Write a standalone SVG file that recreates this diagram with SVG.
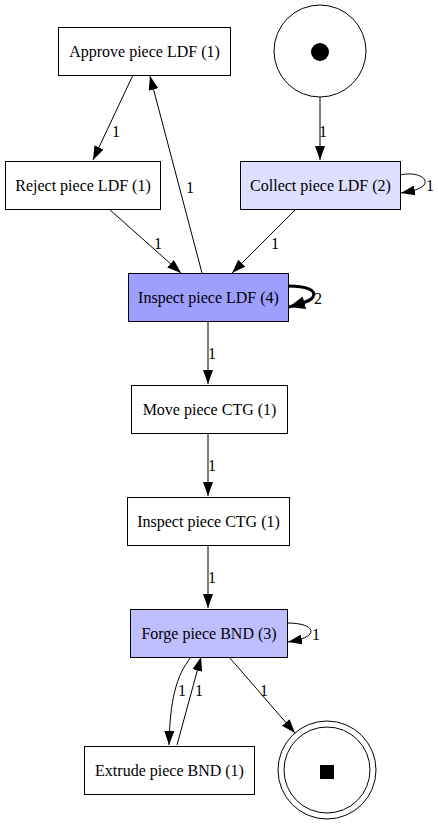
<svg xmlns="http://www.w3.org/2000/svg" width="438" height="824" viewBox="0 0 438 824">
<style>
.n{stroke:#000;stroke-width:1;}
.t{font-family:"Liberation Serif","Times New Roman",serif;font-size:16px;text-anchor:middle;fill:#000;}
.l{font-family:"Liberation Serif","Times New Roman",serif;font-size:16px;text-anchor:middle;fill:#000;}
.e{fill:none;stroke:#000;stroke-width:1;marker-end:url(#a);}
.e3{fill:none;stroke:#000;stroke-width:3;marker-end:url(#b);}
</style>
<defs>
<marker id="a" viewBox="0 0 14 10" refX="14" refY="5" markerWidth="14" markerHeight="10" markerUnits="userSpaceOnUse" orient="auto">
<path d="M0,0 L14,5 L0,10 z" fill="#000"/>
</marker>
<marker id="b" viewBox="0 0 16 13" refX="16" refY="6.5" markerWidth="16" markerHeight="13" markerUnits="userSpaceOnUse" orient="auto">
<path d="M0,0 L16,6.5 L0,13 z" fill="#000"/>
</marker>
</defs>
<rect width="438" height="824" fill="#fff"/>
<g id="connectors">
<path class="e" d="M133,75 L93,160"/>
<text class="l" x="116" y="137">1</text>
<path class="e" d="M202,273 L150,76"/>
<text class="l" x="190" y="193">1</text>
<path class="e" d="M320,97 L320,160"/>
<text class="l" x="323" y="137">1</text>
<path class="e" d="M400,175 C418,171 429,179 424,185 C421,189 412,191 401,193"/>
<text class="l" x="430" y="191">1</text>
<path class="e" d="M109,209 L181,273"/>
<text class="l" x="158" y="249">1</text>
<path class="e" d="M296,209 L232,273"/>
<text class="l" x="275" y="249">1</text>
<path class="e3" d="M288,286 C306,286 317,290 313,297 C311,301 300,304 289,307"/>
<text class="l" x="318" y="304">2</text>
<path class="e" d="M208,321 L208,384"/>
<text class="l" x="212" y="359">1</text>
<path class="e" d="M208,433 L208,496"/>
<text class="l" x="212" y="471">1</text>
<path class="e" d="M208,545 L208,608"/>
<text class="l" x="212" y="583">1</text>
<path class="e" d="M287,623 C305,623 314,628 310,634 C307,638 299,640 288,642"/>
<text class="l" x="316" y="640">1</text>
<path class="e" d="M191,657 C176,676 170,700 169,745"/>
<text class="l" x="182" y="696">1</text>
<path class="e" d="M177,745 L201,657"/>
<text class="l" x="199" y="696">1</text>
<path class="e" d="M229,657 L295,733"/>
<text class="l" x="264" y="696">1</text>
</g>
<g id="start">
<circle class="n" cx="320" cy="51" r="46" fill="#fff"/>
<circle cx="320" cy="52" r="9" fill="#000"/>
</g>
<g id="approve">
<rect class="n" x="58.5" y="27.5" width="172" height="48" fill="#fff"/>
<text class="t" x="144.5" y="57">Approve piece LDF (1)</text>
</g>
<g id="reject">
<rect class="n" x="5.5" y="161.5" width="155" height="48" fill="#fff"/>
<text class="t" x="83" y="191">Reject piece LDF (1)</text>
</g>
<g id="collect">
<rect class="n" x="240.5" y="161.5" width="160" height="48" fill="#dedeff"/>
<text class="t" x="320.5" y="191">Collect piece LDF (2)</text>
</g>
<g id="inspect-ldf">
<rect class="n" x="128.5" y="273.5" width="160" height="48" fill="#9e9eff"/>
<text class="t" x="208.5" y="303">Inspect piece LDF (4)</text>
</g>
<g id="move-ctg">
<rect class="n" x="131.5" y="385.5" width="156" height="48" fill="#fff"/>
<text class="t" x="209.5" y="415">Move piece CTG (1)</text>
</g>
<g id="inspect-ctg">
<rect class="n" x="127.5" y="497.5" width="162" height="48" fill="#fff"/>
<text class="t" x="208.5" y="527">Inspect piece CTG (1)</text>
</g>
<g id="forge-bnd">
<rect class="n" x="130.5" y="609.5" width="157" height="48" fill="#bebeff"/>
<text class="t" x="209" y="639">Forge piece BND (3)</text>
</g>
<g id="extrude-bnd">
<rect class="n" x="84.5" y="746.5" width="170" height="48" fill="#fff"/>
<text class="t" x="169.5" y="776">Extrude piece BND (1)</text>
</g>
<g id="end">
<circle class="n" cx="327" cy="770" r="49" fill="#fff"/>
<circle class="n" cx="327" cy="770" r="43" fill="none"/>
<rect x="320" y="765" width="14" height="14" fill="#000"/>
</g>
</svg>
